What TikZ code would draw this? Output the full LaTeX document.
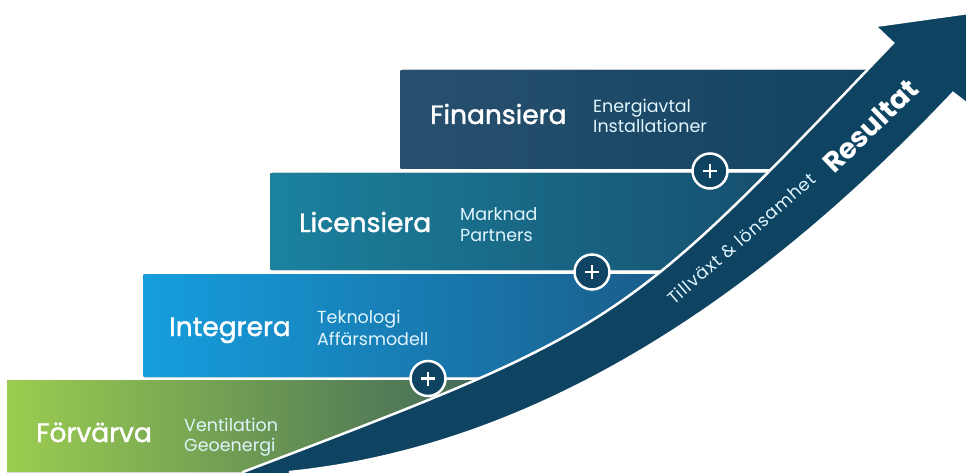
\documentclass[tikz,border=0pt]{standalone}
\usepackage{fontspec}
\setmainfont{Poppins}
\newfontfamily\titelfont[FakeBold=1.6]{Poppins}
\newfontfamily\spärrad[LetterSpace=5]{Poppins}

\definecolor{pil}{RGB}{14,68,98}
\definecolor{finL}{RGB}{40,80,110}
\definecolor{finR}{RGB}{16,66,96}
\definecolor{licL}{RGB}{27,130,158}
\definecolor{licR}{RGB}{22,76,108}
\definecolor{intL}{RGB}{22,158,222}
\definecolor{intR}{RGB}{26,88,132}
\definecolor{forL}{RGB}{155,205,80}
\definecolor{forR}{RGB}{58,96,88}

\begin{document}
\begin{tikzpicture}[x=1pt,y=1pt,
    titel/.style={anchor=base west,inner sep=0pt,text=white,font=\titelfont\fontsize{26.5}{30}\selectfont},
    rad/.style={anchor=base west,inner sep=0pt,text=white!88!cyan,font=\fontsize{17.5}{20}\selectfont},
    plus/.style={circle,draw=white,line width=2.5pt,fill=pil,minimum size=35pt,inner sep=0pt},
    trappa/.style={rounded corners=2pt}]
        \useasboundingbox (0,0) rectangle (966,472);
        \clip (0,0) rectangle (966,472);

        % trappstegen, klippta mot pilens underkant
        \begin{scope}
        \clip (0,472) -- (0,0) -- (290,0) .. controls (515,23) and (736,149) .. (953,379) -- (975,362) -- (975,472) -- cycle;
        \fill [trappa,left color=forL,right color=forR] (7,-5) rectangle (520,92);
        \fill [trappa,left color=intL,right color=intR] (143,95) rectangle (700,198);
        \fill [trappa,left color=licL,right color=licR] (270,202) rectangle (800,299);
        \fill [trappa,left color=finL,right color=finR] (400,303) rectangle (900,402);
        \end{scope}

        % pilen
        \draw [fill=pil,draw=white,line width=2.5pt] (243,0) .. controls (621,144) .. (893,429) -- (875,446) -- (975,460) -- (975,362) -- (953,379) .. controls (736,149) and (515,23) .. (290,0) -- (290,-6) -- (243,-6) -- cycle;

        \node [titel] (forvarva) at (36,30) {Förvärva};
        \node [rad] (ventilation) at (184,41) {Ventilation};
        \node [rad] (geoenergi) at (184,21) {Geoenergi};

        \node [titel] (integrera) at (169,136) {Integrera};
        \node [rad] (teknologi) at (317,149) {Teknologi};
        \node [rad] (affar) at (317,127) {Affärsmodell};

        \node [titel] (licensiera) at (299,240) {Licensiera};
        \node [rad] (marknad) at (460,252) {Marknad};
        \node [rad] (partners) at (460,231) {Partners};

        \node [titel] (finansiera) at (430,348) {Finansiera};
        \node [rad] (energiavtal) at (593,359) {Energiavtal};
        \node [rad] (install) at (593,339) {Installationer};

        \node [plus] (p1) at (428,93.5) {};
        \node [plus] (p2) at (592,200) {};
        \node [plus] (p3) at (710,301) {};
        \foreach \p in {p1,p2,p3} {
            \draw [white,line width=2.5pt] ([xshift=-7pt]\p.center) -- ([xshift=7pt]\p.center);
            \draw [white,line width=2.5pt] ([yshift=-7pt]\p.center) -- ([yshift=7pt]\p.center);
        }

        \node [rotate=41,anchor=base west,inner sep=0pt,text=white!88!cyan,font=\spärrad\fontsize{17.5}{20}\selectfont] (tillvaxt) at (674,166) {Tillväxt \& lönsamhet};
        \node [rotate=44,anchor=base west,inner sep=0pt,text=white,font=\bfseries\fontsize{28}{30}\selectfont] (resultat) at (834,297) {Resultat};
      \end{tikzpicture}
\end{document}
